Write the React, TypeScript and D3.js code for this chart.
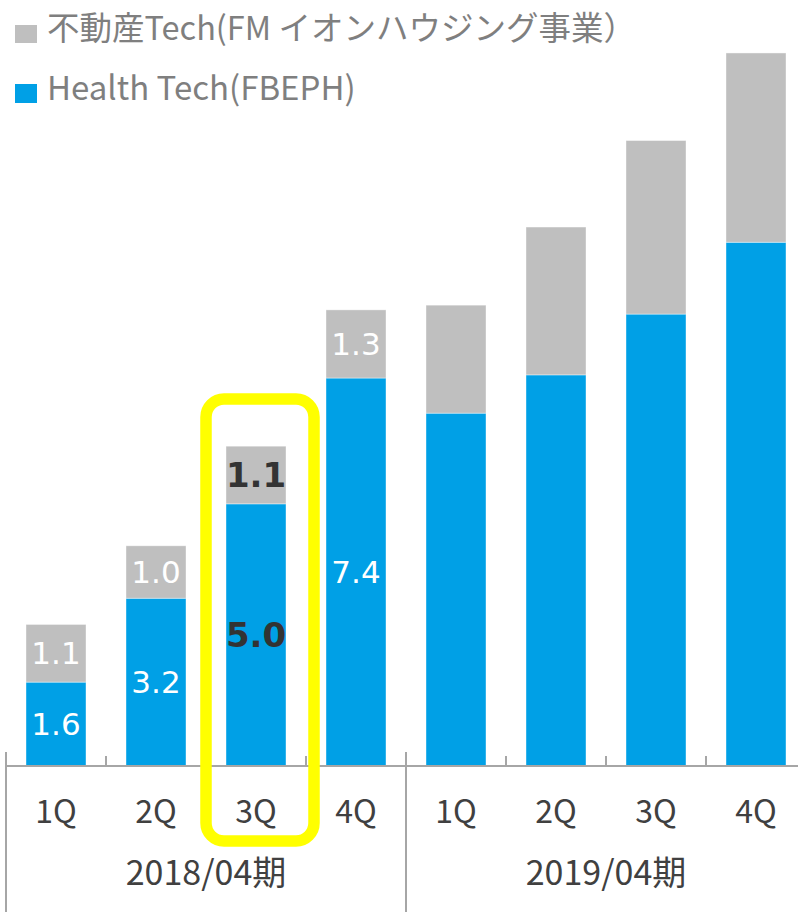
import React from 'react';
import * as d3 from 'd3';

const quarters = ['1Q', '2Q', '3Q', '4Q', '1Q', '2Q', '3Q', '4Q'];
const periods = ['2018/04期', '2019/04期'];
const healthTech = [1.6, 3.2, 5.0, 7.4, 6.73, 7.46, 8.62, 9.99];
const realEstateTech = [1.1, 1.0, 1.1, 1.3, 2.06, 2.82, 3.31, 3.61];
const labelled = [true, true, true, true, false, false, false, false];
const highlightIndex = 2;
const seriesNames = ['不動産Tech(FM イオンハウジング事業）', 'Health Tech(FBEPH)'];

const BLUE = '#00a0e6';
const GRAY = '#bfbfbf';
const AXIS = '#a6a6a6';

const width = 798;
const height = 912;
const baseline = 766;

const App = () => {
  const rows = quarters.map((q, i) => ({ i, health: healthTech[i], estate: realEstateTech[i] }));
  const stacked = d3.stack<any>().keys(['health', 'estate'])(rows);

  const x = d3.scaleBand<number>()
    .domain(d3.range(quarters.length))
    .range([6, 806])
    .paddingInner(0.4)
    .paddingOuter(0.2);

  const y = d3.scaleLinear().domain([0, 14]).range([baseline, 32]);
  const step = x.step();
  const colors = [BLUE, GRAY];

  const hl = x(highlightIndex)!;

  return (
    <svg width={width} height={height} style={{ position: 'absolute', left: 0, top: 0, background: '#fff' }}>
      {/* legend */}
      <rect x={15} y={25} width={22} height={18} fill={GRAY} />
      <text x={47} y={40} fontFamily="'Noto Sans CJK JP', 'Noto Sans', sans-serif" fontSize={32.5} fill="#7f7f7f">{seriesNames[0]}</text>
      <rect x={15} y={84} width={22} height={19} fill={BLUE} />
      <text x={47} y={100} fontFamily="'Noto Sans CJK JP', 'Noto Sans', sans-serif" fontSize={33} fill="#7f7f7f">{seriesNames[1]}</text>

      {/* bars */}
      {stacked.map((s, si) => (
        <g key={si}>
          {s.map((d, i) => (
            <rect key={i} x={x(i)} y={y(d[1])} width={x.bandwidth()} height={y(d[0]) - y(d[1])}
              fill={colors[si]} stroke="#ffffff" strokeOpacity={0.5} strokeWidth={0.8} />
          ))}
        </g>
      ))}

      {/* value labels */}
      {stacked.map((s, si) => s.map((d, i) => {
        if (!labelled[i]) return null;
        const v = si === 0 ? healthTech[i] : realEstateTech[i];
        const bold = i === highlightIndex;
        return (
          <text key={`${si}-${i}`} x={x(i)! + x.bandwidth() / 2} y={(y(d[0]) + y(d[1])) / 2}
            dy="0.36em" textAnchor="middle" fontFamily="'DejaVu Sans', Verdana, sans-serif"
            fontSize={bold ? 34 : 31} fontWeight={bold ? 'bold' : 'normal'}
            fill={bold ? '#333333' : '#ffffff'}>
            {d3.format('.1f')(v)}
          </text>
        );
      }))}

      {/* axis */}
      <line x1={6} x2={width} y1={baseline} y2={baseline} stroke={AXIS} strokeWidth={2} />
      {d3.range(quarters.length + 1).map(k => {
        const tx = 6 + k * step;
        const major = k % 4 === 0;
        return (
          <line key={k} x1={tx} x2={tx} y1={major ? 752 : 756} y2={major ? height : baseline}
            stroke={AXIS} strokeWidth={2} />
        );
      })}
      {quarters.map((q, i) => (
        <text key={i} x={x(i)! + x.bandwidth() / 2} y={823} textAnchor="middle"
          fontFamily="'Noto Sans CJK JP', 'Noto Sans', sans-serif" fontSize={32} fill="#404040">{q}</text>
      ))}
      {periods.map((p, i) => (
        <text key={p} x={6 + step * 4 * i + step * 2} y={885} textAnchor="middle"
          fontFamily="'Noto Sans CJK JP', 'Noto Sans', sans-serif" fontSize={34} fill="#404040">{p}</text>
      ))}

      {/* highlight box */}
      <rect x={hl - 20} y={399} width={x.bandwidth() + 48} height={442} rx={18} ry={18}
        fill="none" stroke="#ffff00" strokeWidth={11.5} />
    </svg>
  );
};

export default App;
